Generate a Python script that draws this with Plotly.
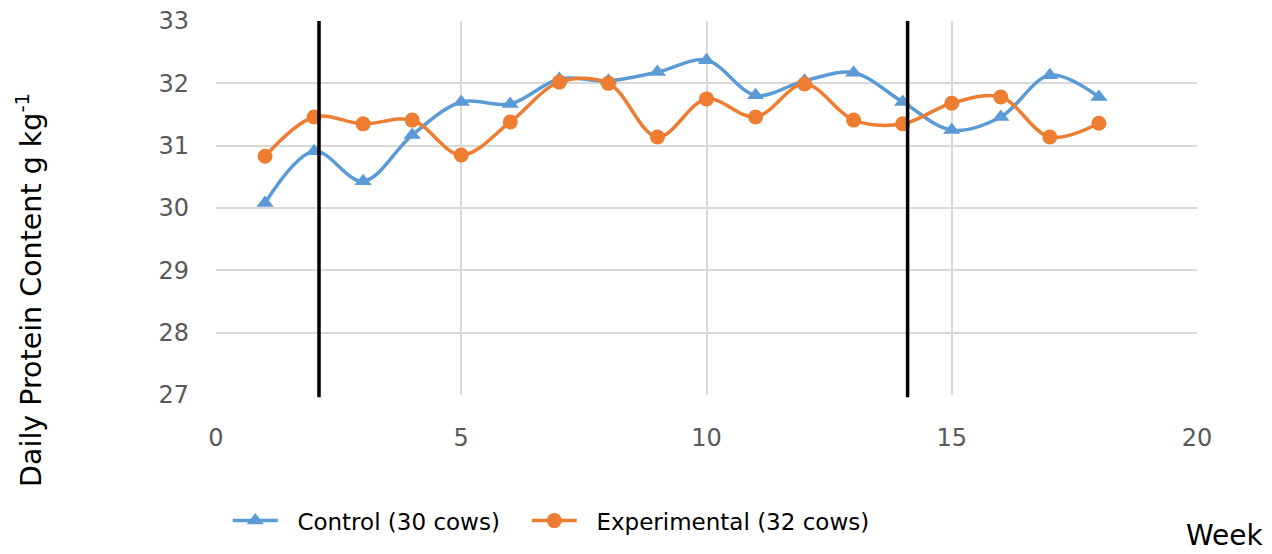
import plotly.graph_objects as go

# Weekly milk protein content (g/kg) for the two groups
weeks = list(range(1, 19))
control = [30.08, 30.91, 30.43, 31.17, 31.70, 31.67, 32.07, 32.04, 32.18,
           32.37, 31.81, 32.04, 32.17, 31.70, 31.25, 31.46, 32.13, 31.78]
experimental = [30.83, 31.46, 31.35, 31.41, 30.85, 31.38, 32.02, 32.00, 31.14,
                31.75, 31.46, 31.99, 31.41, 31.35, 31.68, 31.78, 31.14, 31.36]

# Weeks marking the boundaries of the treatment period
period_marks = [2.1, 14.1]

FONT = "DejaVu Sans"
TICK_COLOR = "#595959"
GRID = "#d9d9d9"
NBSP = "\u00a0"

fig = go.Figure()
fig.add_trace(go.Scatter(
    x=weeks, y=control, name=NBSP * 2 + "Control (30 cows)" + NBSP * 3,
    mode="lines+markers",
    line=dict(color="#5b9bd5", width=3.5, shape="spline", smoothing=1),
    marker=dict(symbol="triangle-up", size=15, color="#5b9bd5"),
))
fig.add_trace(go.Scatter(
    x=weeks, y=experimental, name=NBSP * 2 + "Experimental (32 cows)",
    mode="lines+markers",
    line=dict(color="#ed7d31", width=3.5, shape="spline", smoothing=1),
    marker=dict(symbol="circle", size=15, color="#ed7d31"),
))

for xm in period_marks:
    fig.add_shape(type="line", x0=xm, x1=xm, xref="x", y0=-0.006, y1=1,
                  yref="paper", line=dict(color="black", width=3.5))

fig.add_annotation(text="Daily Protein Content g kg<sup>-1</sup>",
                   xref="paper", yref="paper", x=-0.19, y=0.28,
                   xanchor="center", yanchor="middle",
                   textangle=-90, showarrow=False,
                   font=dict(family=FONT, size=28.5, color="black"))
fig.add_annotation(text="Week", xref="paper", yref="paper",
                   x=1.0285, y=-0.375, xanchor="center", yanchor="middle",
                   showarrow=False,
                   font=dict(family=FONT, size=28, color="black"))

fig.update_layout(
    width=1272, height=554,
    margin=dict(l=216, r=75, t=21, b=159, autoexpand=False),
    plot_bgcolor="white", paper_bgcolor="white",
    font=dict(family=FONT, color=TICK_COLOR),
    showlegend=True,
    legend=dict(orientation="h", x=0.012, y=-0.336, xanchor="left",
                yanchor="middle", font=dict(family=FONT, size=23, color="black"),
                itemwidth=45),
    xaxis=dict(range=[0, 20], tickvals=[0, 5, 10, 15, 20], showgrid=True,
               gridcolor=GRID, gridwidth=1.5, zeroline=False, showline=False,
               automargin=False,
               tickfont=dict(size=24, color=TICK_COLOR), ticklabelstandoff=26),
    yaxis=dict(range=[27, 33], tickvals=[27, 28, 29, 30, 31, 32, 33],
               showgrid=True, gridcolor=GRID, gridwidth=1.5, zeroline=False,
               showline=False, automargin=False,
               tickfont=dict(size=24, color=TICK_COLOR),
               ticklabelstandoff=26),
)

fig.write_html("out.html")
